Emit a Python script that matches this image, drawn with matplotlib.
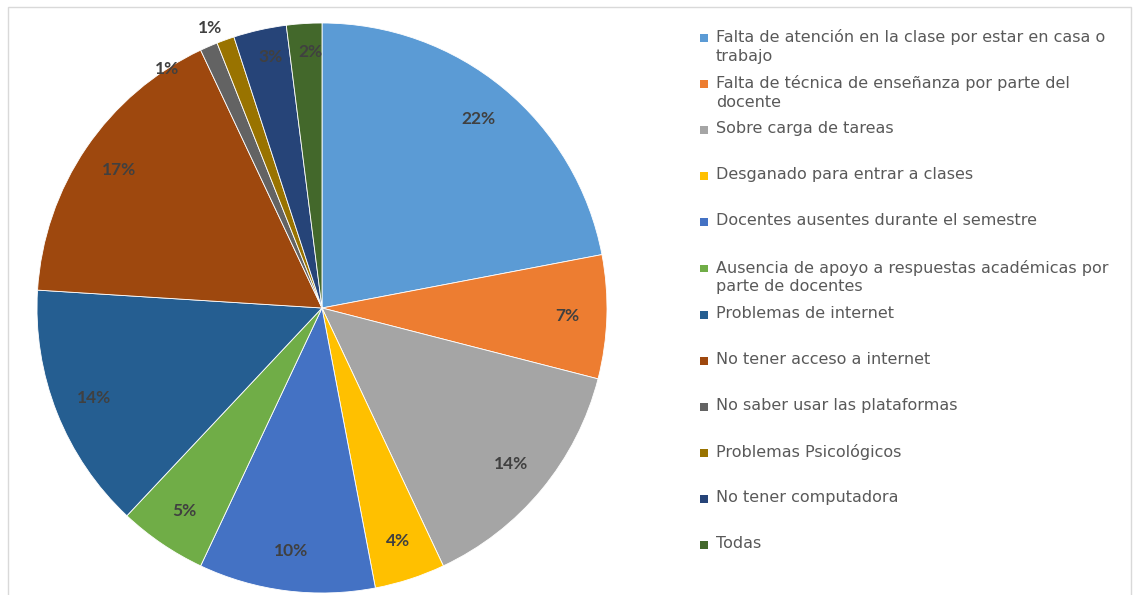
import matplotlib.pyplot as plt
from matplotlib.patches import Rectangle
import numpy as np

plt.rcParams['font.family'] = ['Lato', 'DejaVu Sans']

labels = [
    "Falta de atención en la clase por estar en casa o\ntrabajo",
    "Falta de técnica de enseñanza por parte del\ndocente",
    "Sobre carga de tareas",
    "Desganado para entrar a clases",
    "Docentes ausentes durante el semestre",
    "Ausencia de apoyo a respuestas académicas por\nparte de docentes",
    "Problemas de internet",
    "No tener acceso a internet",
    "No saber usar las plataformas",
    "Problemas Psicológicos",
    "No tener computadora",
    "Todas",
]
values = [22, 7, 14, 4, 10, 5, 14, 17, 1, 1, 3, 2]
colors = ["#5B9BD5", "#ED7D31", "#A5A5A5", "#FFC000", "#4472C4", "#70AD47",
          "#255E91", "#9E480E", "#636363", "#997300", "#264478", "#43682B"]

W, H = 1134, 595
fig = plt.figure(figsize=(W / 100, H / 100), dpi=100)

# pie: centre (322, 308), radius ~285 px
cx, cy, r = 322, 308, 285
ax = fig.add_axes([(cx - r) / W, (H - cy - r) / H, 2 * r / W, 2 * r / H])
wedges, texts, autotexts = ax.pie(
    values, colors=colors, startangle=90, counterclock=False,
    autopct='%1.0f%%', pctdistance=0.86, radius=1,
    wedgeprops=dict(edgecolor='white', linewidth=0.6),
    textprops=dict(color='#404040', fontsize=12.5, fontweight='bold'))
ax.set_xlim(-1, 1)
ax.set_ylim(-1, 1)
ax.set_aspect('auto')
ax.axis('off')

# small slices: nudge labels like Excel's best fit
moves = {8: (9.6, 1.0), 9: (2.0, 1.06), 10: (-1.0, 0.9), 11: (-1.0, 0.9)}
for i, (dang, dist) in moves.items():
    w = wedges[i]
    ang = np.deg2rad((w.theta1 + w.theta2) / 2 + dang)
    autotexts[i].set_position((dist * np.cos(ang), dist * np.sin(ang)))

# legend drawn by hand, Excel-like spacing
lx, ly0, step = 700, 38, 46.1
for i, (lab, col) in enumerate(zip(labels, colors)):
    y = ly0 + i * step
    fig.add_artist(Rectangle((lx / W, 1 - (y + 4) / H), 8 / W, 8 / H,
                             transform=fig.transFigure, facecolor=col,
                             edgecolor='none'))
    fig.text((lx + 16) / W, 1 - (y - 9) / H, lab, ha='left', va='top',
             fontsize=11.5, color='#595959', linespacing=1.3,
             family='DejaVu Sans')

# thin chart frame
fig.add_artist(Rectangle((8 / W, -0.02), (1131 - 8) / W, 1 - 7 / H + 0.02,
                         transform=fig.transFigure, facecolor='none',
                         edgecolor='#D9D9D9', linewidth=1))

fig.savefig('out.png', dpi=100)
